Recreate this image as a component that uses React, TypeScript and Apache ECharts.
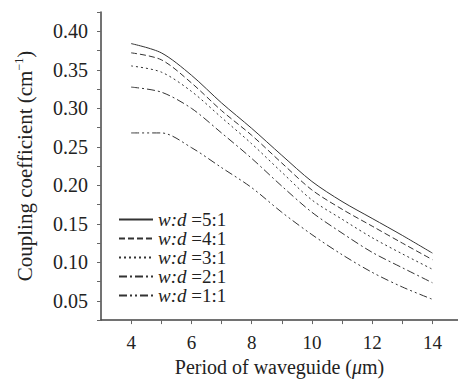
import React, { useEffect, useRef } from "react";
import * as echarts from "echarts";

const periods = [4, 5, 6, 7, 8, 9, 10, 11, 12, 13, 14];
const ratios = ["5:1", "4:1", "3:1", "2:1", "1:1"];
const wd51 = [0.384, 0.372, 0.343, 0.307, 0.274, 0.239, 0.205, 0.179, 0.157, 0.135, 0.112];
const wd41 = [0.372, 0.363, 0.333, 0.297, 0.265, 0.229, 0.194, 0.169, 0.147, 0.125, 0.1035];
const wd31 = [0.355, 0.347, 0.322, 0.288, 0.254, 0.217, 0.181, 0.156, 0.132, 0.111, 0.091];
const wd21 = [0.3275, 0.321, 0.3, 0.268, 0.235, 0.199, 0.165, 0.138, 0.113, 0.093, 0.0735];
const wd11 = [0.268, 0.268, 0.249, 0.223, 0.197, 0.165, 0.136, 0.11, 0.087, 0.068, 0.052];
const seriesValues = [wd51, wd41, wd31, wd21, wd11];
const dashTypes: any[] = [
  "solid",
  [6, 3],
  [2, 3],
  [8, 3, 2, 3],
  [8, 3, 2, 3, 2, 3],
];

const FONT = "Liberation Serif";

export default function App() {
  const ref = useRef<HTMLDivElement>(null);
  useEffect(() => {
    if (!ref.current) return;
    const chart = echarts.init(ref.current, null, { renderer: "svg" });
    chart.setOption({
      animation: false,
      backgroundColor: "#fff",
      grid: { left: 101, right: 0, top: 12, bottom: 57 },
      legend: ratios.map((r, i) => ({
        orient: "vertical",
        left: 118,
        top: 210 + i * 19,
        itemWidth: 34,
        itemHeight: 14,
        padding: 0,
        data: [r],
        itemStyle: { color: "transparent", borderColor: "transparent", borderWidth: 0 },
        formatter: (name: string) => "{i|w:d} =" + name,
        textStyle: {
          fontFamily: FONT,
          fontSize: 19,
          color: "#222",
          rich: {
            i: { fontFamily: FONT, fontSize: 19, fontStyle: "italic", color: "#222" },
          },
        },
      })),
      xAxis: {
        type: "value",
        min: 3,
        max: 14.85,
        interval: 1,
        name: "Period of waveguide ({i|μ}m)",
        nameLocation: "middle",
        nameGap: 36,
        nameTextStyle: {
          fontFamily: FONT,
          fontSize: 20,
          color: "#222",
          rich: { i: { fontFamily: FONT, fontSize: 20, fontStyle: "italic", color: "#222" } },
        },
        axisLine: { show: true, lineStyle: { color: "#444", width: 1.5 } },
        axisTick: { show: true, inside: false, length: 4, lineStyle: { color: "#666" } },
        axisLabel: {
          fontFamily: FONT,
          fontSize: 19,
          color: "#222",
          margin: 13,
          showMinLabel: false,
          showMaxLabel: false,
          formatter: (v: number) =>
            Math.abs(v - Math.round(v)) < 1e-6 && Math.round(v) % 2 === 0 ? String(Math.round(v)) : "",
        },
        splitLine: { show: false },
      },
      yAxis: {
        type: "value",
        min: 0.025,
        max: 0.425,
        interval: 0.025,
        name: "Coupling coefficient (cm{sup|−1})",
        nameLocation: "middle",
        nameGap: 64,
        nameRotate: 90,
        nameTextStyle: {
          fontFamily: FONT,
          fontSize: 21,
          color: "#222",
          rich: {
            sup: { fontFamily: FONT, fontSize: 12, color: "#222", padding: [0, 0, 12, 0] },
          },
        },
        axisLine: { show: true, lineStyle: { color: "#444", width: 1.5 } },
        axisTick: { show: true, inside: false, length: 4, lineStyle: { color: "#666" } },
        axisLabel: {
          fontFamily: FONT,
          fontSize: 20,
          color: "#222",
          margin: 13,
          formatter: (v: number) => {
            const k = Math.round(v * 1000);
            return k % 50 === 0 ? (k / 1000).toFixed(2) : "";
          },
        },
        splitLine: { show: false },
      },
      series: ratios.map((r, i) => ({
        name: r,
        type: "line",
        symbol: "none",
        smooth: 0.3,
        data: periods.map((p, j) => [p, seriesValues[i][j]]),
        lineStyle: { color: "#333", width: 1, type: dashTypes[i] },
        itemStyle: { color: "#333" },
      })),
    });
    return () => chart.dispose();
  }, []);
  return <div ref={ref} style={{ width: 458, height: 382, position: "absolute", left: 0, top: 0 }} />;
}
